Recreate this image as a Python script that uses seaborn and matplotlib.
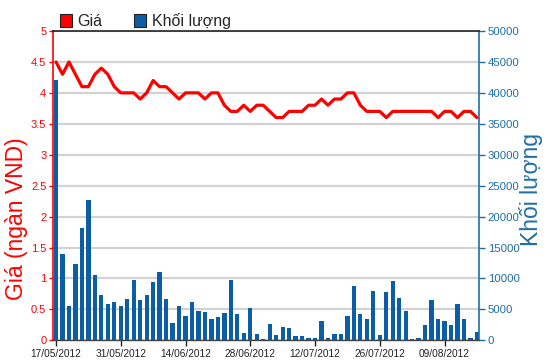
import numpy as np
import pandas as pd
import matplotlib
matplotlib.use("Agg")
import matplotlib.pyplot as plt
import seaborn as sns
from matplotlib.patches import Patch
from matplotlib.ticker import FuncFormatter, MultipleLocator

# ---------------- data ----------------
dates = pd.bdate_range("2012-05-17", periods=66).strftime("%d/%m/%Y").tolist()
price = [4.5, 4.3, 4.5, 4.3, 4.1, 4.1, 4.3, 4.4, 4.3, 4.1,
         4.0, 4.0, 4.0, 3.9, 4.0, 4.2, 4.1, 4.1, 4.0, 3.9,
         4.0, 4.0, 4.0, 3.9, 4.0, 4.0, 3.8, 3.7, 3.7, 3.8,
         3.7, 3.8, 3.8, 3.7, 3.6, 3.6, 3.7, 3.7, 3.7, 3.8,
         3.8, 3.9, 3.8, 3.9, 3.9, 4.0, 4.0, 3.8, 3.7, 3.7,
         3.7, 3.6, 3.7, 3.7, 3.7, 3.7, 3.7, 3.7, 3.7, 3.6,
         3.7, 3.7, 3.6, 3.7, 3.7, 3.6]
volume = [42100, 14000, 5600, 12400, 18200, 22600, 10600, 7400, 5900, 6200,
          5600, 6700, 9800, 6500, 7400, 9400, 11000, 6700, 2800, 5600,
          4000, 6200, 4800, 4600, 3500, 3800, 4400, 9700, 4200, 1200,
          5200, 1000, 200, 2600, 800, 2200, 2000, 650, 650, 420,
          420, 3100, 420, 1000, 1000, 4000, 8800, 4200, 3400, 8000,
          800, 7800, 9600, 6800, 4800, 200, 420, 2400, 6450, 3440,
          3200, 2400, 5800, 3440, 420, 1400]
xtick_labels = ["17/05/2012", "31/05/2012", "14/06/2012", "28/06/2012",
                "12/07/2012", "26/07/2012", "09/08/2012"]
series_names = ["Giá", "Khối lượng"]
left_label = "Giá (ngàn VND)"
right_label = "Khối lượng"

df = pd.DataFrame({"idx": np.arange(len(dates)), "date": dates,
                   "price": price, "volume": volume})

# ---------------- style ----------------
sns.set_style("white")
plt.rcParams["font.family"] = ["Liberation Sans", "DejaVu Sans"]

RED = "#ff0000"
BLUE_AX = "#1f6ea6"
BAR = "#0b5ea5"
GRID = "#d2d2d2"

fig = plt.figure(figsize=(5.5, 3.64), dpi=100)
fig.patch.set_facecolor("white")
pos = [53.3 / 550, 1 - 340.3 / 364, 426 / 550, 309.3 / 364]
ax = fig.add_axes(pos)          # price (left)
ax2 = ax.twinx()                # volume (right)

# volume bars on the right axis
sns.barplot(data=df, x="idx", y="volume", ax=ax2, color=BAR, saturation=1,
            width=0.66, linewidth=0, zorder=2)
ax2.set_ylim(0, 50000)
ax2.yaxis.set_major_locator(MultipleLocator(5000))
ax2.yaxis.set_major_formatter(FuncFormatter(lambda v, p: f"{int(v)}"))
ax2.grid(axis="y", color=GRID, linewidth=1.6)
ax2.grid(axis="x", visible=False)
ax2.set_axisbelow(True)

# price line on the left axis, drawn above the bars
ax.set_zorder(ax2.get_zorder() + 1)
ax.patch.set_visible(False)
sns.lineplot(data=df, x="idx", y="price", ax=ax, color=RED, linewidth=2.3,
             solid_joinstyle="round", zorder=5)
ax.set_ylim(0, 5)
ax.yaxis.set_major_locator(MultipleLocator(0.5))
ax.yaxis.set_major_formatter(FuncFormatter(lambda v, p: f"{v:g}"))
ax.grid(False)

# x axis
xt = [dates.index(t) for t in xtick_labels]
ax.set_xlim(-0.42, len(dates) - 1 + 0.37)
ax2.set_xlim(-0.42, len(dates) - 1 + 0.37)
ax.set_xticks(xt)
ax.set_xticklabels(xtick_labels)
ax.tick_params(axis="x", labelsize=7.3, colors="#222222", length=4, width=1,
               pad=2, direction="out", bottom=True)
ax2.tick_params(axis="x", bottom=False, labelbottom=False)
for a in (ax, ax2):
    a.set_xlabel("")
    a.set_ylabel("")

# left axis styling
ax.tick_params(axis="y", colors=RED, labelsize=8, length=3, width=1, pad=2,
               direction="out", left=True)
ax.spines["left"].set_color(RED)
ax.spines["left"].set_linewidth(1.2)
ax.spines["right"].set_visible(False)
ax.spines["top"].set_color("#222222")
ax.spines["top"].set_linewidth(1.2)
ax.spines["bottom"].set_color("#444444")
ax.spines["bottom"].set_linewidth(1.0)

# right axis styling
ax2.tick_params(axis="y", colors=BLUE_AX, labelsize=8.2, length=4, width=1,
                pad=2, direction="out", right=True)
ax2.spines["right"].set_color(BLUE_AX)
ax2.spines["right"].set_linewidth(1.2)
for s in ("left", "top", "bottom"):
    ax2.spines[s].set_visible(False)

# axis titles
fig.text(17 / 550, 1 - 219 / 364, left_label, rotation=90, color=RED,
         fontsize=16.5, ha="center", va="center")
fig.text(531 / 550, 1 - 189 / 364, right_label, rotation=90, color=BLUE_AX,
         fontsize=16.5, ha="center", va="center")

# legend
handles = [Patch(facecolor=RED, edgecolor="#222222", linewidth=0.8),
           Patch(facecolor=BAR, edgecolor="#222222", linewidth=0.8)]
fig.legend(handles, series_names, loc="upper left",
           bbox_to_anchor=(55 / 550, 1 - 8 / 364), ncol=2, frameon=False,
           fontsize=11.5, handlelength=0.75, handleheight=0.9,
           handletextpad=0.35, columnspacing=2.0, borderaxespad=0,
           borderpad=0.3)

fig.savefig("out.png", dpi=100, facecolor="white")
